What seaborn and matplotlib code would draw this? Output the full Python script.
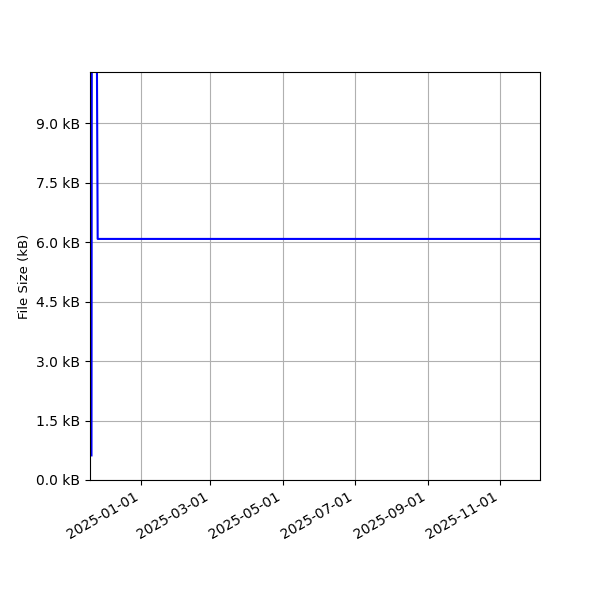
import pandas as pd
import matplotlib
matplotlib.use('Agg')
import matplotlib.pyplot as plt
import matplotlib.dates as mdates
from matplotlib.ticker import FuncFormatter, MultipleLocator
import seaborn as sns

dates = ['2024-11-20 06:00', '2024-11-20 18:00', '2024-11-23 12:00',
         '2024-11-25 12:00', '2025-12-05 00:00']
sizes_kb = [0.62, 20.0, 20.0, 6.08, 6.08]

df = pd.DataFrame({'date': pd.to_datetime(dates), 'size': sizes_kb})

fig, ax = plt.subplots(figsize=(6, 6), dpi=100)
sns.lineplot(data=df, x='date', y='size', color='blue', linewidth=1.5, ax=ax)

ax.set_xlim(pd.Timestamp('2024-11-19'), pd.Timestamp('2025-12-05'))
ax.set_ylim(0, 10.29)
ax.yaxis.set_major_locator(MultipleLocator(1.5))
ax.yaxis.set_major_formatter(FuncFormatter(lambda v, p: '%.1f kB' % v))
ax.xaxis.set_major_locator(mdates.MonthLocator(bymonth=[1, 3, 5, 7, 9, 11]))
ax.xaxis.set_major_formatter(mdates.DateFormatter('%Y-%m-%d'))
ax.grid(True)
ax.set_xlabel('')
ax.set_ylabel('File Size (kB)', fontsize=9.5)

fig.autofmt_xdate()
fig.subplots_adjust(left=0.15, right=0.9, top=0.88, bottom=0.2)
fig.savefig('out.png', dpi=100)
